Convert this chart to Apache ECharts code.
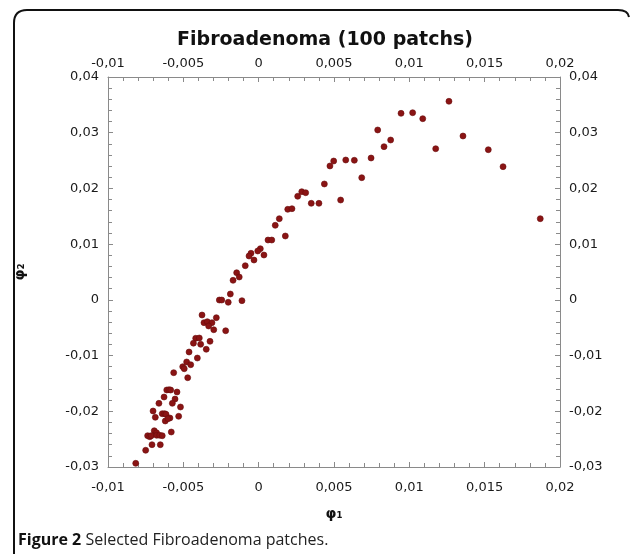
<!DOCTYPE html>
<html>
<head>
<meta charset="utf-8">
<script src="https://cdn.jsdelivr.net/npm/echarts@6/dist/echarts.min.js"></script>
<style>html,body{margin:0;padding:0;background:#fff}#c{width:633px;height:554px}</style>
</head>
<body>
<div id="c"></div>
<script>
const titleText = 'Fibroadenoma (100 patchs)';
const xName = 'φ₁';
const yName = 'φ₂';
const captionBold = 'Figure 2';
const captionText = ' Selected Fibroadenoma patches.';
const xRange = [-0.01, 0.02];
const yRange = [-0.03, 0.04];

const phi1 = [0.01263,0.00945,0.01022,0.01089,0.01356,0.01175,0.01524,0.01622,0.01869,0.0079,
 0.00876,0.00832,0.00746,0.00635,0.00578,0.00498,0.00473,0.00684,0.00436,0.00544,
 0.004,0.00349,0.00286,0.00312,0.00259,0.00193,0.00221,0.00137,0.0011,0.00177,
 0.00062,0.00087,0.00011,-0.00006,-0.00051,-0.00064,-0.00031,0.00035,-0.00089,-0.00146,
 -0.00129,-0.0017,-0.00188,-0.00261,-0.00245,-0.00202,-0.00111,-0.00376,-0.00281,-0.00363,
 -0.00341,-0.0031,-0.00332,-0.00298,-0.00219,-0.00418,-0.00394,-0.00433,-0.00385,-0.00323,
 -0.00348,-0.00462,-0.00478,-0.00451,-0.00504,-0.00494,-0.00407,-0.00471,-0.00564,-0.0061,
 -0.00595,-0.00584,-0.00542,-0.00628,-0.00555,-0.00662,-0.00573,-0.00519,-0.00701,-0.0064,
 -0.00624,-0.00615,-0.00686,-0.00531,-0.00589,-0.0062,-0.00602,-0.00693,-0.00678,-0.00737,
 -0.00723,-0.00713,-0.00677,-0.00657,-0.0064,-0.0058,-0.00708,-0.00653,-0.0075,-0.00816];
const phi2 = [0.03564,0.03348,0.03359,0.03252,0.02941,0.02713,0.02695,0.0239,0.01457,0.03049,
 0.02869,0.02749,0.02546,0.02505,0.0251,0.02492,0.02403,0.02193,0.0208,0.01792,
 0.01733,0.01733,0.01941,0.01923,0.01859,0.01625,0.01636,0.01457,0.01338,0.01146,
 0.01074,0.01074,0.00918,0.00877,0.00836,0.00787,0.00715,0.00805,0.00613,0.00487,
 0.0041,0.00351,0.00105,-0.00003,-0.00003,-0.00044,-0.00015,-0.00272,-0.0032,-0.0041,
 -0.00392,-0.0041,-0.00469,-0.00536,-0.00554,-0.0069,-0.00685,-0.00778,-0.00798,-0.00744,
 -0.00887,-0.00936,-0.01115,-0.01164,-0.012,-0.01236,-0.01044,-0.01397,-0.01307,-0.01618,
 -0.01613,-0.01618,-0.01654,-0.01744,-0.0178,-0.01857,-0.01857,-0.01923,-0.01995,-0.02043,
 -0.02043,-0.02054,-0.02108,-0.0209,-0.02121,-0.02174,-0.02133,-0.02349,-0.02386,-0.02438,
 -0.02456,-0.02438,-0.02431,-0.02431,-0.02438,-0.02372,-0.026,-0.026,-0.027,-0.02934];

const points = phi1.map((x, i) => [x, phi2[i]]);
const fmt = v => (Math.abs(v) < 1e-12 ? '0' : String(+v.toFixed(3)).replace('.', ','));

const axisCommon = {
  axisLine: { show: true, onZero: false, lineStyle: { color: '#8a8a8a', width: 1 } },
  axisTick: { show: true, inside: true, length: 5, lineStyle: { color: '#8a8a8a' } },
  minorTick: { show: true, splitNumber: 5, length: 4, lineStyle: { color: '#8a8a8a' } },
  splitLine: { show: false },
  axisLabel: { formatter: fmt, color: '#1a1a1a', fontFamily: 'DejaVu Sans', fontSize: 13 }
};

const frameStyle = { fill: null, stroke: '#111', lineWidth: 2 };

const chart = echarts.init(document.getElementById('c'), null, { renderer: 'canvas' });
chart.setOption({
  animation: false,
  backgroundColor: '#fff',
  grid: { left: 108, right: 73, top: 77, bottom: 87, containLabel: false },
  xAxis: [
    Object.assign({}, axisCommon, {
      type: 'value', position: 'bottom', min: xRange[0], max: xRange[1], interval: 0.005,
      name: xName, nameLocation: 'middle', nameGap: 40,
      nameTextStyle: { fontFamily: 'DejaVu Sans', fontWeight: 'bold', fontSize: 14, color: '#111' },
      axisLabel: Object.assign({}, axisCommon.axisLabel, { margin: 14 })
    }),
    Object.assign({}, axisCommon, {
      type: 'value', position: 'top', min: xRange[0], max: xRange[1], interval: 0.005,
      axisLabel: Object.assign({}, axisCommon.axisLabel, { margin: 7 })
    })
  ],
  yAxis: [
    Object.assign({}, axisCommon, {
      type: 'value', position: 'left', min: yRange[0], max: yRange[1], interval: 0.01,
      name: yName, nameLocation: 'middle', nameGap: 81, nameRotate: 90,
      nameTextStyle: { fontFamily: 'DejaVu Sans', fontWeight: 'bold', fontSize: 14, color: '#111' },
      axisLabel: Object.assign({}, axisCommon.axisLabel, { margin: 9 })
    }),
    Object.assign({}, axisCommon, {
      type: 'value', position: 'right', min: yRange[0], max: yRange[1], interval: 0.01,
      axisLabel: Object.assign({}, axisCommon.axisLabel, { margin: 9 })
    })
  ],
  series: [{
    type: 'scatter',
    xAxisIndex: 0, yAxisIndex: 0,
    data: points,
    symbolSize: 6,
    itemStyle: { color: '#8a1414', opacity: 1, borderColor: '#6a0c0c', borderWidth: 0.6 }
  }],
  graphic: [
    { type: 'line', silent: true, shape: { x1: 14, y1: 554, x2: 14, y2: 23 }, style: frameStyle },
    { type: 'bezierCurve', silent: true, shape: { x1: 14, y1: 23, cpx1: 14, cpy1: 10, x2: 27, y2: 10 }, style: frameStyle },
    { type: 'line', silent: true, shape: { x1: 27, y1: 10, x2: 618, y2: 10 }, style: frameStyle },
    { type: 'bezierCurve', silent: true, shape: { x1: 618, y1: 10, cpx1: 628, cpy1: 10, x2: 629, y2: 17 }, style: frameStyle },
    {
      type: 'text', x: 325, y: 40,
      style: { text: titleText, font: 'bold 19px "DejaVu Sans"', fill: '#111', align: 'center', verticalAlign: 'middle' }
    },
    {
      type: 'text', x: 18, y: 540,
      style: {
        text: '{b|' + captionBold + '}{n|' + captionText + '}',
        verticalAlign: 'middle',
        rich: {
          b: { fontFamily: 'Open Sans', fontWeight: 'bold', fontSize: 16, fill: '#111' },
          n: { fontFamily: 'Open Sans', fontSize: 16, fill: '#222' }
        }
      }
    }
  ]
});
</script>
</body>
</html>
